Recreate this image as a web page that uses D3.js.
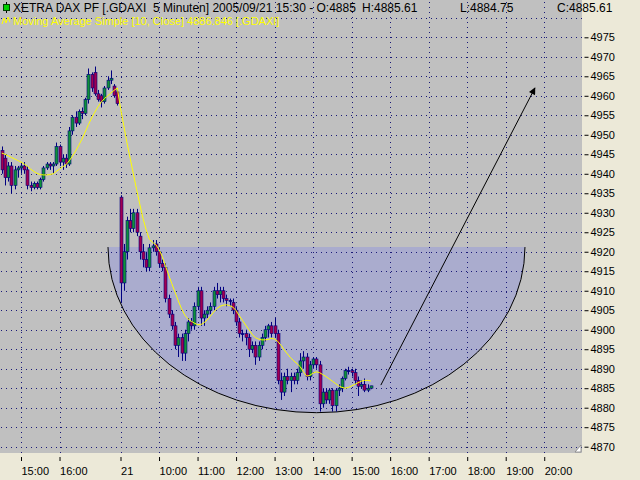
<!DOCTYPE html>
<html><head><meta charset="utf-8">
<script src="https://cdn.jsdelivr.net/npm/d3@7"></script>
<style>
html,body{margin:0;padding:0;background:#ece9d8;overflow:hidden;}
svg{display:block;font-family:"Liberation Sans",Arial,sans-serif;}
text{white-space:pre;}
</style></head><body>
<svg id="chart" width="640" height="480"></svg>
<script>
// ---------------- DATA ----------------
// bar index of the first bar (index 0 = 2005/09/20 15:00, 5-minute bars)
const firstBar = -6;
const open = [
4946,4944,4939,4942,4937,4941,4941.5,4942,4941,4937,4936.5,4937.5,4936.5,4938.5,4941.5,4942.5,4942,4942.5,4947,4943,4944,4942.5,4951,4954.5,4953,4956,4955.5,4959,4965.5,4966,4960.5,4960,4958.5,4962,4964,4962.5,4961,
4934,4912,4920,4928,4926,4930,4924,4920,4918,4916,4921,4922,4920,4917,4916,4908,4904,4901,4896,4898,4894,4899,4902,4901,4906,4910,4903,4904,4905,4906,4910,4909,4910,4908,4907.5,4907,4905,4902,4899,4899,4898,4895,4896,4893,4896,4898,4900,4901,4901,4899,4887,4884,4888,4887,4888,4887,4889,4892,4893,4888,4891,4892.5,4891,4881,4884,4882,4884.5,4880.5,4884.5,4885,4887.5,4889.5,4889.5,4889,4887,4885.5,4886,4884.5,4885];
const high = [
4947,4945,4943,4943,4942,4942,4943,4943,4942,4938,4938,4938,4939,4942,4943,4943,4943,4948,4947.5,4945,4945,4952,4955,4956,4956.5,4957,4959.5,4967,4966,4967.5,4961.5,4960.5,4962.5,4965,4966.5,4963,4961.5,
4934.5,4922,4929,4931,4931,4931,4925,4922,4920,4922,4923,4923,4921,4918,4917,4909,4905,4902,4899,4899,4900,4903,4903,4907,4911,4911,4905,4906,4907,4911,4912,4911,4911,4909,4908,4908,4906,4903,4900,4900,4899,4897,4897,4897,4899,4901,4901.5,4902,4903,4900,4889,4889,4890,4889,4889,4890,4894,4894.5,4894,4892,4893,4893,4892,4885,4885,4885,4885,4885,4886,4888,4890,4890.5,4890,4890,4888,4887,4887.5,4886,4885.61];
const low = [
4940,4937,4938,4935,4936,4939,4940,4940,4936,4935.5,4936,4936,4936,4938,4941,4941,4940,4942,4942,4941,4941.5,4942,4950,4952,4952.5,4954,4955,4958,4961,4960,4958.5,4957,4958,4961.5,4963,4959.5,4957.5,
4907,4910,4918,4925,4925,4924,4918,4916,4915,4915,4920,4919,4916,4915,4907,4903,4900,4895,4893,4892,4892,4897,4900,4900,4905,4901,4901,4903,4904,4905,4908,4907,4907,4906,4906,4904,4901,4898,4897,4896,4893,4894,4891,4892,4895,4897,4898,4898,4898,4886,4882,4883,4886,4884,4886,4886,4888,4890,4887,4887,4890,4890,4879,4880,4881,4881,4879,4879,4883,4884,4887,4888.5,4888,4886,4883,4885,4884,4884,4884.75];
const close = [
4941,4939,4942,4937,4941,4941.5,4942,4941,4937,4936.5,4937.5,4936.5,4938.5,4941.5,4942.5,4942,4942.5,4947,4943,4944,4942.5,4951,4954.5,4953,4956,4955.5,4959,4965.5,4962,4960.5,4959,4958.5,4962,4964,4964.5,4960,4958,
4912,4920,4928,4926,4930,4925,4920,4918,4916,4921,4921.5,4920,4917,4916,4908,4904,4901,4896,4898,4894,4899,4902,4901,4906,4910,4903,4904,4905,4906,4910,4909,4910,4908,4907.5,4907.5,4905,4902,4899,4899,4898,4895,4896,4893,4896,4898,4900,4901,4899,4899,4887,4884,4888,4887,4888,4887,4889,4892,4893,4888,4891,4892.5,4891,4881,4884,4882,4884.5,4880.5,4884.5,4885,4887.5,4889.5,4889.5,4889,4887,4885.5,4886,4884.5,4885,4885.61];
// Moving Average Simple [10, Close]
const ma10 = [
4945.3,4945.0,4944.6,4944.2,4943.8,4943.4,4943.0,4942.5,4941.9,4941.2,4940.6,4940.1,4939.8,4939.7,4939.7,4939.8,4940.0,4940.6,4941.2,4941.8,4942.3,4943.3,4944.5,4945.8,4947.3,4948.9,4950.7,4952.6,4954.3,4955.8,4957.2,4958.4,4959.3,4960.0,4960.7,4961.4,4962.0,
4956.8,4952.4,4948.0,4944.0,4940.0,4936.0,4932.2,4928.6,4925.6,4923.2,4922.4,4921.8,4920.6,4918.8,4916.4,4914.0,4911.8,4909.6,4907.4,4905.4,4903.8,4902.8,4902.2,4901.7,4901.3,4901.3,4901.8,4902.5,4903.5,4904.5,4905.4,4906.0,4906.3,4906.4,4906.2,4905.8,4904.9,4903.6,4902.4,4901.2,4900.0,4898.8,4898.0,4897.6,4897.4,4897.4,4897.5,4897.8,4897.6,4897.0,4896.0,4894.8,4893.8,4892.8,4892.0,4891.3,4890.5,4889.2,4888.1,4888.3,4888.9,4889.2,4889.0,4888.5,4888.0,4887.4,4886.8,4886.2,4885.6,4885.2,4885.0,4885.2,4885.6,4886.0,4886.4,4886.8,4887.0,4887.0,4886.846];
const priceTicks = [4870,4875,4880,4885,4890,4895,4900,4905,4910,4915,4920,4925,4930,4935,4940,4945,4950,4955,4960,4965,4970,4975];
const gridPrices = [4870,4875,4880,4885,4890,4895,4900,4905,4910,4915,4920,4925,4930,4935,4940,4945,4950,4955,4960,4965,4970,4975,4980];
const timeTickBars = [0,12,31,43,55,67,79,91,103,115,127,139,151,163];
const timeTickLabels = ["15:00","16:00","21","10:00","11:00","12:00","13:00","14:00","15:00","16:00","17:00","18:00","19:00","20:00"];
const titleParts = ["XETRA DAX PF [.GDAXI  5 Minuten] 2005/09/21 15:30 - O:4885", "H:4885.61", "L:4884.75", "C:4885.61"];
const maText = "Moving Average Simple [10, Close] 4886.846 [.GDAXI]";
// drawn annotations, in chart units (bar index, price)
const bowlBars = [27.1, 157];
const bowlPrices = [4921.2, 4878.7];
const arrowBars = [112.1, 160.1];
const arrowPrices = [4885.8, 4962];

// ---------------- LAYOUT ----------------
const W = 640, H = 480;
const plotR = 582, plotB = 453;
const svg = d3.select("#chart");
const x = d3.scaleLinear().domain([-21/3.21, (plotR-21)/3.21]).range([0, plotR]);
const y = d3.scaleLinear().domain([4870, 4975]).range([446.7, 37.3]);

svg.append("rect").attr("width", W).attr("height", H).attr("fill", "#ece9d8");
svg.append("rect").attr("width", plotR).attr("height", plotB).attr("fill", "#c0c0c0");

const plot = svg.append("g");
// bowl (shaded half ellipse)
const bx1 = x(bowlBars[0]), bx2 = x(bowlBars[1]);
const by = y(bowlPrices[0]), byb = y(bowlPrices[1]);
const rx = (bx2 - bx1) / 2, ry = byb - by;
plot.append("path")
  .attr("d", `M${bx1},${by} A${rx},${ry} 0 0 0 ${bx2},${by} Z`)
  .attr("fill", "#aaacce");

// grid
const grid = plot.append("g").attr("stroke", "#1a1a78").attr("stroke-width", 1).attr("stroke-dasharray", "1,4");
grid.selectAll("line.h").data(gridPrices).join("line").attr("class", "h")
  .attr("x1", 1).attr("x2", plotR).attr("y1", d => Math.round(y(d)) + 0.5).attr("y2", d => Math.round(y(d)) + 0.5);
grid.selectAll("line.v").data(timeTickBars).join("line").attr("class", "v")
  .attr("y1", 2).attr("y2", plotB).attr("x1", d => Math.round(x(d)) + 0.5).attr("x2", d => Math.round(x(d)) + 0.5);

// bowl outline
plot.append("path")
  .attr("d", `M${bx1},${by} A${rx},${ry} 0 0 0 ${bx2},${by}`)
  .attr("fill", "none").attr("stroke", "#000").attr("stroke-width", 1);

// candles
const bars = open.map((o, k) => ({i: firstBar + k, o, h: high[k], l: low[k], c: close[k]}));
const cg = plot.append("g");
cg.selectAll("line.w").data(bars).join("line").attr("class", "w")
  .attr("x1", d => Math.round(x(d.i)) + 0.5).attr("x2", d => Math.round(x(d.i)) + 0.5)
  .attr("y1", d => y(d.h)).attr("y2", d => y(d.l))
  .attr("stroke", "#000080").attr("stroke-width", 1);
cg.selectAll("rect.b").data(bars).join("rect").attr("class", "b")
  .attr("x", d => Math.round(x(d.i)) - 1)
  .attr("width", 3)
  .attr("y", d => y(Math.max(d.o, d.c)))
  .attr("height", d => Math.max(1, Math.abs(y(d.o) - y(d.c))))
  .attr("fill", d => d.c > d.o ? "#109038" : (d.c < d.o ? "#a00050" : "#000080"))
  .attr("stroke", "#000080").attr("stroke-width", 0.6);

// moving average
plot.append("path").datum(ma10)
  .attr("d", d3.line().x((d, k) => x(firstBar + k)).y(d => y(d)))
  .attr("fill", "none").attr("stroke", "#ffff00").attr("stroke-width", 1);

// arrow
svg.append("defs").append("marker").attr("id", "ah")
  .attr("viewBox", "0 0 10 10").attr("refX", 9).attr("refY", 5)
  .attr("markerWidth", 9).attr("markerHeight", 7).attr("markerUnits", "userSpaceOnUse")
  .attr("orient", "auto")
  .append("path").attr("d", "M0,0 L10,5 L0,10 Z").attr("fill", "#000");
plot.append("line")
  .attr("x1", x(arrowBars[0])).attr("y1", y(arrowPrices[0]))
  .attr("x2", x(arrowBars[1])).attr("y2", y(arrowPrices[1]))
  .attr("stroke", "#000").attr("stroke-width", 1).attr("marker-end", "url(#ah)");

// resize grip
svg.append("path").attr("d", `M${plotR-7},${plotB-1} L${plotR-1},${plotB-8} L${plotR-1},${plotB-1} Z`)
  .attr("fill", "#fff").attr("stroke", "#808080").attr("stroke-width", 0.8);

// axes
const ya = svg.append("g").attr("transform", `translate(${plotR + 2.5},0)`)
  .call(d3.axisRight(y).tickValues(priceTicks).tickSize(4).tickPadding(2).tickFormat(d3.format("d")));
ya.select(".domain").remove();
ya.selectAll("text").attr("font-size", 11).attr("fill", "#000").attr("font-family", "Liberation Sans, Arial, sans-serif");
ya.selectAll("line").attr("stroke", "#000");

const xa = svg.append("g").attr("transform", `translate(0,${plotB + 4})`)
  .call(d3.axisBottom(x).tickValues(timeTickBars).tickSize(4).tickPadding(6).tickFormat((d, k) => timeTickLabels[k]));
xa.select(".domain").remove();
xa.selectAll("text").attr("font-size", 11).attr("fill", "#000").attr("text-anchor", "start")
  .attr("font-family", "Liberation Sans, Arial, sans-serif");
xa.selectAll("line").attr("stroke", "#000");

// header
const hd = svg.append("g");
hd.append("line").attr("x1", 6.5).attr("x2", 6.5).attr("y1", 2).attr("y2", 13).attr("stroke", "#000");
hd.append("rect").attr("x", 3.5).attr("y", 4.5).attr("width", 6).attr("height", 6).attr("fill", "#00d000").attr("stroke", "#004000");
const titleX = [13, 362, 460, 557];
titleParts.forEach((t, k) => {
  hd.append("text").attr("x", titleX[k]).attr("y", 12).attr("font-size", 12).attr("fill", "#000").text(t);
});
hd.append("path").attr("d", "M2,24 L4,18 L6,23 L8,17 L10,22").attr("fill", "none").attr("stroke", "#ffff00").attr("stroke-width", 1);
hd.append("text").attr("x", 13).attr("y", 25).attr("font-size", 11).attr("fill", "#ffff00").text(maText);
</script>
</body></html>
